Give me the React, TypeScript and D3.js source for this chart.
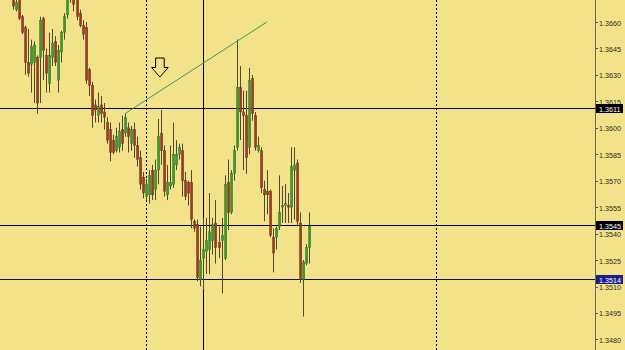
import React from "react";
import * as d3 from "d3";

const startIndex = 4;
const opens = [1.3675,1.3667,1.3673,1.3663,1.3657,1.3637,1.3636,1.3637,1.3640,1.3640,1.3662,1.3641,1.3625,1.3640,1.3649,1.3627,1.3643,1.3654,1.3664,1.3673,1.3678,1.3673,1.3665,1.3658,1.3657,1.3633,1.3624,1.3613,1.3607,1.3613,1.3609,1.3603,1.3599,1.3593,1.3587,1.3589,1.3599,1.3597,1.3600,1.3591,1.3599,1.3590,1.3583,1.3572,1.3561,1.3562,1.3576,1.3565,1.3576,1.3597,1.3587,1.3562,1.3567,1.3568,1.3579,1.3585,1.3587,1.3570,1.3569,1.3569,1.3547,1.3545,1.3514,1.3526,1.3530,1.3531,1.3536,1.3546,1.3535,1.3536,1.3526,1.3569,1.3552,1.3574,1.3589,1.3623,1.3609,1.3607,1.3589,1.3628,1.3607,1.3587,1.3587,1.3565,1.3564,1.3564,1.3538,1.3538,1.3544,1.3555,1.3556,1.3556,1.3555,1.3576,1.3580,1.3546,1.3514,1.3523,1.3532];
const highs = [1.3678,1.3675,1.3674,1.3664,1.3658,1.3656,1.3650,1.3649,1.3641,1.3663,1.3663,1.3645,1.3654,1.3656,1.3652,1.3647,1.3655,1.3665,1.3677,1.3684,1.3684,1.3675,1.3667,1.3661,1.3660,1.3634,1.3626,1.3616,1.3620,1.3618,1.3614,1.3606,1.3603,1.3596,1.3600,1.3603,1.3607,1.3608,1.3603,1.3601,1.3603,1.3595,1.3587,1.3575,1.3571,1.3576,1.3579,1.3582,1.3605,1.3610,1.3590,1.3579,1.3590,1.3603,1.3593,1.3591,1.3591,1.3575,1.3570,1.3576,1.3548,1.3548,1.3544,1.3549,1.3549,1.3563,1.3549,1.3559,1.3544,1.3549,1.3573,1.3582,1.3576,1.3590,1.3650,1.3635,1.3621,1.3621,1.3634,1.3630,1.3609,1.3595,1.3589,1.3570,1.3576,1.3565,1.3543,1.3544,1.3573,1.3567,1.3568,1.3563,1.3589,1.3589,1.3582,1.3552,1.3525,1.3534,1.3552];
const lows = [1.3667,1.3666,1.3661,1.3653,1.3630,1.3629,1.3620,1.3614,1.3608,1.3614,1.3627,1.3620,1.3620,1.3635,1.3635,1.3620,1.3637,1.3650,1.3662,1.3671,1.3666,1.3661,1.3657,1.3650,1.3625,1.3618,1.3600,1.3603,1.3603,1.3603,1.3599,1.3591,1.3581,1.3585,1.3586,1.3586,1.3587,1.3595,1.3586,1.3587,1.3583,1.3578,1.3565,1.3560,1.3559,1.3557,1.3559,1.3559,1.3568,1.3579,1.3561,1.3559,1.3565,1.3566,1.3576,1.3582,1.3561,1.3559,1.3556,1.3543,1.3541,1.3513,1.3510,1.3508,1.3517,1.3517,1.3528,1.3523,1.3526,1.3506,1.3525,1.3542,1.3551,1.3570,1.3587,1.3593,1.3576,1.3574,1.3585,1.3604,1.3587,1.3586,1.3563,1.3547,1.3551,1.3538,1.3518,1.3531,1.3542,1.3546,1.3546,1.3546,1.3546,1.3548,1.3545,1.3512,1.3493,1.3522,1.3523];
const closes = [1.3669,1.3671,1.3662,1.3654,1.3637,1.3631,1.3646,1.3647,1.3614,1.3661,1.3644,1.3631,1.3641,1.3648,1.3637,1.3644,1.3654,1.3663,1.3674,1.3678,1.3670,1.3663,1.3658,1.3653,1.3627,1.3624,1.3607,1.3610,1.3612,1.3608,1.3606,1.3593,1.3586,1.3586,1.3595,1.3598,1.3591,1.3606,1.3595,1.3599,1.3590,1.3582,1.3568,1.3563,1.3568,1.3573,1.3562,1.3576,1.3595,1.3587,1.3564,1.3569,1.3569,1.3585,1.3585,1.3589,1.3570,1.3561,1.3563,1.3548,1.3543,1.3515,1.3525,1.3531,1.3536,1.3541,1.3545,1.3532,1.3532,1.3539,1.3568,1.3552,1.3574,1.3587,1.3623,1.3609,1.3607,1.3583,1.3627,1.3608,1.3589,1.3590,1.3566,1.3562,1.3562,1.3539,1.3529,1.3543,1.3552,1.3556,1.3557,1.3555,1.3578,1.3579,1.3547,1.3514,1.3524,1.3532,1.3544];

const yTicks = [1.3660,1.3645,1.3630,1.3615,1.3600,1.3585,1.3570,1.3555,1.3540,1.3525,1.3510,1.3495,1.3480];
const levelPrices = [1.3611, 1.3545, 1.3514];
const levelLineColors = ["#000000", "#000000", "#0c0c50"];
const levelBoxColors = ["#000000", "#000000", "#1c1c8e"];
const separatorIndexes = [48, 144];
const crossIndex = 67;
const trendIndexes = [41, 88];
const trendPrices = [1.3608, 1.3660];
const arrowIndex = 52.6;
const arrowPrice = 1.36288;

const W = 625;
const H = 350;
const PLOT_R = 595;
const BG = "#F2E38B";

export default function App() {
  const x = d3.scaleLinear().domain([0, 144]).range([1.0, 436.0]);
  const y = d3.scaleLinear().domain([1.348, 1.366]).range([339.4, 22]);
  const fmt = d3.format(".4f");

  const candles = opens.map((o, i) => ({
    k: startIndex + i, o, h: highs[i], l: lows[i], c: closes[i],
  }));

  const trendLine = d3.line<number>()
    .x((_, i) => x(trendIndexes[i]))
    .y((p) => y(p));

  const ax = x(arrowIndex);
  const ay = y(arrowPrice);
  const arrowPts = [
    [ax - 4.3, ay - 19], [ax + 4.3, ay - 19], [ax + 4.3, ay - 9.5], [ax + 8.3, ay - 9.5],
    [ax, ay], [ax - 8.3, ay - 9.5], [ax - 4.3, ay - 9.5],
  ].map((p) => p.join(",")).join(" ");

  return (
    <svg width={W} height={H} style={{ position: "absolute", left: 0, top: 0, display: "block" }}
      fontFamily="'Liberation Sans', Arial, sans-serif">
      <defs>
        <clipPath id="plot"><rect x={0} y={0} width={PLOT_R} height={H} /></clipPath>
      </defs>
      <rect x={0} y={0} width={W} height={H} fill={BG} />
      <g clipPath="url(#plot)">
        {separatorIndexes.map((k) => (
          <line key={"s" + k} x1={Math.round(x(k)) + 0.5} x2={Math.round(x(k)) + 0.5} y1={0} y2={H}
            stroke="#000" strokeWidth={1} strokeDasharray="2,2" />
        ))}
        <line x1={Math.round(x(crossIndex)) + 0.5} x2={Math.round(x(crossIndex)) + 0.5} y1={0} y2={H}
          stroke="#000" strokeWidth={1} />
        {levelPrices.map((p, i) => (
          <line key={"l" + i} x1={0} x2={PLOT_R} y1={Math.round(y(p)) + 0.5} y2={Math.round(y(p)) + 0.5}
            stroke={levelLineColors[i]} strokeWidth={1} />
        ))}
        {candles.map((d) => {
          const cx = Math.round(x(d.k));
          const up = d.c >= d.o;
          const top = y(Math.max(d.o, d.c));
          const bot = y(Math.min(d.o, d.c));
          return (
            <g key={d.k}>
              <line x1={cx + 0.5} x2={cx + 0.5} y1={y(d.h)} y2={y(d.l)} stroke="#4f4a2c" strokeWidth={1} />
              <rect x={cx - 0.5} y={top} width={2.2} height={Math.max(1, bot - top)}
                fill={up ? "#3a9a2c" : "#9a3b22"} stroke={up ? "#2a6a20" : "#6a2a18"} strokeWidth={0.4} />
            </g>
          );
        })}
        <path d={trendLine(trendPrices) || ""} fill="none" stroke="#3d9a62" strokeWidth={1} />
        <polygon points={arrowPts} fill={BG} stroke="#000" strokeWidth={1} />
      </g>
      <line x1={PLOT_R + 0.5} x2={PLOT_R + 0.5} y1={0} y2={H} stroke="#6f6a48" strokeWidth={1} />
      {yTicks.map((t) => (
        <g key={"t" + t}>
          <line x1={PLOT_R + 1} x2={PLOT_R + 3} y1={Math.round(y(t)) + 0.5} y2={Math.round(y(t)) + 0.5}
            stroke="#555" strokeWidth={1} />
          <text x={599} y={y(t) + 3.5} fontSize={7.2} fill="#2a2a2a">{fmt(t)}</text>
        </g>
      ))}
      {levelPrices.map((p, i) => (
        <g key={"b" + i}>
          <rect x={PLOT_R + 1} y={Math.round(y(p)) - 4} width={27} height={9} fill={levelBoxColors[i]} />
          <text x={599} y={Math.round(y(p)) + 3.5} fontSize={7.2} fill="#ffffff">{fmt(p)}</text>
        </g>
      ))}
    </svg>
  );
}
